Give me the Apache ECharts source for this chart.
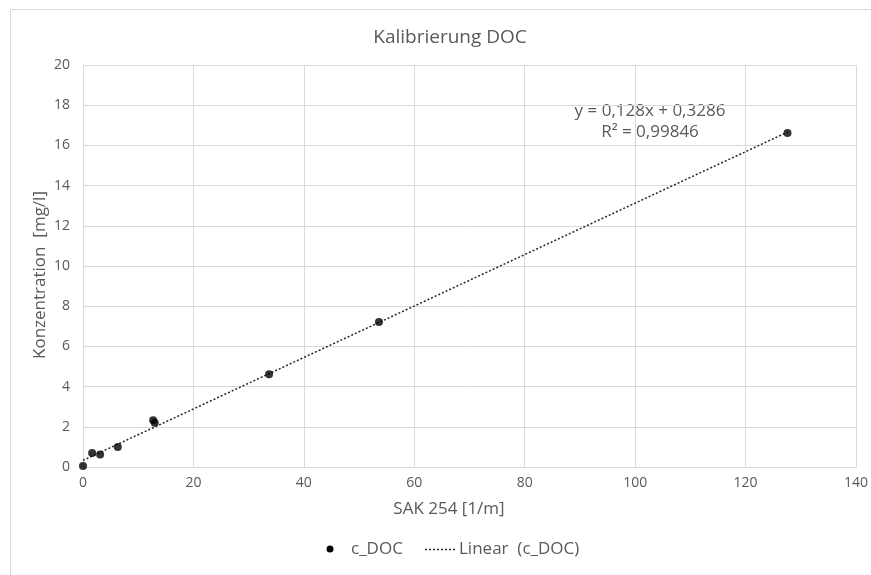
<!DOCTYPE html>
<html>
<head>
<meta charset="utf-8">
<script src="https://cdn.jsdelivr.net/npm/echarts@6/dist/echarts.min.js"></script>
<style>html,body{margin:0;padding:0;background:#fff}#c{width:871px;height:575px}</style>
</head>
<body>
<div id="c"></div>
<script>
const sak = [0, 1.65, 3.1, 6.3, 12.7, 13.0, 33.7, 53.6, 127.6];
const doc = [0.05, 0.70, 0.62, 1.0, 2.33, 2.2, 4.62, 7.22, 16.62];
const slope = 0.128;
const intercept = 0.3286;
const eqText = 'y = 0,128x + 0,3286';
const r2Text = 'R² = 0,99846';
const xTicks = [0, 20, 40, 60, 80, 100, 120, 140];
const yTicks = [0, 2, 4, 6, 8, 10, 12, 14, 16, 18, 20];
const legendNames = ['c_DOC', 'Linear  (c_DOC)'];
const xName = 'SAK 254 [1/m]';
const yName = 'Konzentration  [mg/l]';

const FONT = '"Open Sans", "Liberation Sans", sans-serif';
const TXT = '#595959';
const xMax = Math.max(...sak);
const trend = [[0, intercept], [xMax, slope * xMax + intercept]];

const chart = echarts.init(document.getElementById('c'));
chart.setOption({
  animation: false,
  backgroundColor: '#fff',
  textStyle: { fontFamily: FONT },
  title: {
    text: 'Kalibrierung DOC',
    left: 445, top: 23, textAlign: 'center',
    textStyle: { fontFamily: FONT, fontSize: 19, fontWeight: 'normal', color: TXT }
  },
  grid: { left: 83, right: 14, top: 65, bottom: 108 },
  xAxis: {
    type: 'value', min: xTicks[0], max: xTicks[xTicks.length - 1], interval: 20,
    axisLine: { show: true, lineStyle: { color: '#d9d9d9' } },
    axisTick: { show: false },
    axisLabel: { fontFamily: FONT, fontSize: 14, color: TXT, margin: 9 },
    splitLine: { show: true, lineStyle: { color: '#d9d9d9' } }
  },
  yAxis: {
    type: 'value', min: yTicks[0], max: yTicks[yTicks.length - 1], interval: 2,
    axisLine: { show: true, lineStyle: { color: '#d9d9d9' } },
    axisTick: { show: false },
    axisLabel: { fontFamily: FONT, fontSize: 14, color: TXT, margin: 13 },
    splitLine: { show: true, lineStyle: { color: '#d9d9d9' } }
  },
  series: [
    {
      name: legendNames[1], type: 'line', data: trend, symbol: 'none',
      lineStyle: { type: [2, 2], width: 1.5, color: '#262626' },
      itemStyle: { color: '#262626' }, z: 2
    },
    {
      name: legendNames[0], type: 'scatter', data: sak.map((x, i) => [x, doc[i]]),
      symbol: 'circle', symbolSize: 8, itemStyle: { color: '#000' }, z: 3
    }
  ],
  graphic: [
    { type: 'rect', shape: { x: 10.5, y: 9.5, width: 900, height: 700 },
      style: { fill: 'none', stroke: '#d9d9d9', lineWidth: 1 }, silent: true, z: -1 },
    { type: 'text', x: 449, y: 509,
      style: { text: xName, align: 'center', verticalAlign: 'middle', font: '17px ' + FONT, fill: TXT } },
    { type: 'text', x: 40, y: 275, rotation: Math.PI / 2,
      style: { text: yName, align: 'center', verticalAlign: 'middle', font: '17px ' + FONT, fill: TXT } },
    { type: 'text', x: 650, y: 101,
      style: { text: eqText + '\n' + r2Text, align: 'center', verticalAlign: 'top', font: '17px ' + FONT, fill: TXT, lineHeight: 21 } },
    { type: 'circle', shape: { cx: 330, cy: 549, r: 3.5 }, style: { fill: '#000' } },
    { type: 'text', x: 351, y: 549,
      style: { text: legendNames[0], verticalAlign: 'middle', font: '17px ' + FONT, fill: TXT } },
    { type: 'line', shape: { x1: 425, y1: 549.5, x2: 455, y2: 549.5 },
      style: { stroke: '#262626', lineWidth: 1.5, lineDash: [2, 2] } },
    { type: 'text', x: 459, y: 549,
      style: { text: legendNames[1], verticalAlign: 'middle', font: '17px ' + FONT, fill: TXT } }
  ]
});
</script>
</body>
</html>
